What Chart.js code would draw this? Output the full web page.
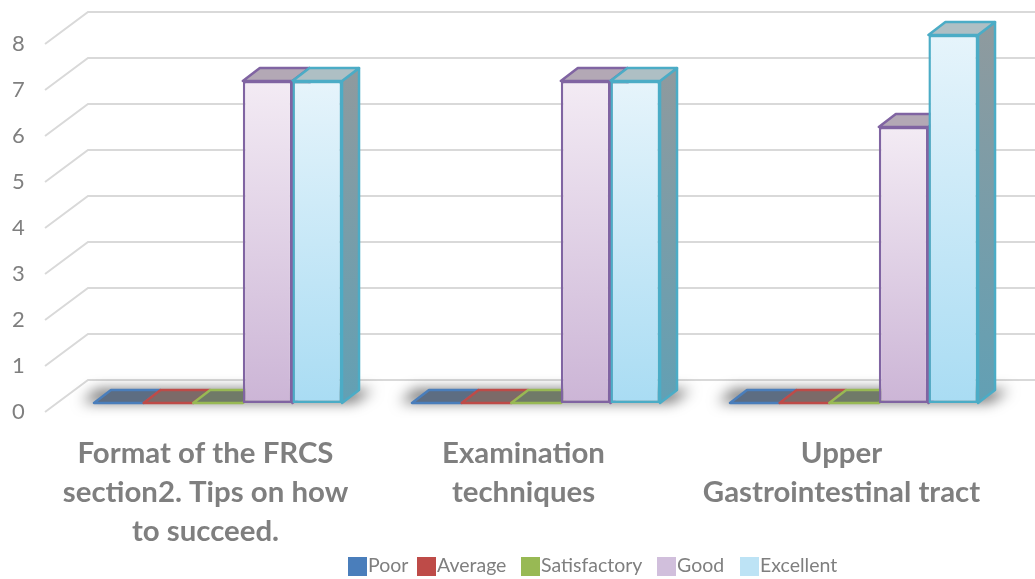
<!DOCTYPE html>
<html><head><meta charset="utf-8">
<style>html,body{margin:0;padding:0;background:#fff}canvas{display:block}</style>
<script src="https://cdn.jsdelivr.net/npm/chart.js@4"></script>
</head><body><canvas id="c" width="1035" height="579"></canvas>
<script>
const categories = [
  ["Format of the FRCS","section2. Tips on how","to succeed."],
  ["Examination","techniques"],
  ["Upper","Gastrointestinal tract"]
];
const poor = [0,0,0];
const average = [0,0,0];
const satisfactory = [0,0,0];
const good = [7,7,6];
const excellent = [7,7,8];
const tickValues = [0,1,2,3,4,5,6,7,8];

const FONT = "Lato, Carlito, sans-serif";
const GREY = "#7f7f7f";
const D = {dx:17, dy:13};
const legendLeft = [348,417,521,657,740];

function vGrad(chart, v, a, b){
  if(!chart.chartArea) return a;
  const y = chart.scales.y;
  const g = chart.ctx.createLinearGradient(0,y.getPixelForValue(v),0,y.getPixelForValue(0));
  g.addColorStop(0,a); g.addColorStop(1,b);
  return g;
}
function face(ctx){ return function(c){ return vGrad(c.chart, c.raw||0, ctx[0], ctx[1]); }; }
function poly(c, pts, fill, stroke, lw){
  c.beginPath(); pts.forEach((p,i)=> i? c.lineTo(p[0],p[1]) : c.moveTo(p[0],p[1])); c.closePath();
  if(fill){c.fillStyle=fill;c.fill();}
  if(stroke){c.strokeStyle=stroke;c.lineWidth=lw||2;c.lineJoin="round";c.stroke();}
}

const depthPlugin = {
  id:"depth",
  beforeDatasetsDraw(chart){
    const c = chart.ctx, y = chart.scales.y;
    c.save();
    tickValues.forEach(v=>{
      const py = y.getPixelForValue(v);
      c.beginPath(); c.moveTo(45,py+9); c.lineTo(88,py-23); c.lineTo(1035,py-23);
      c.strokeStyle="#d9d9d9"; c.lineWidth=2; c.stroke();
    });
    const n = chart.data.datasets.length;
    const far = 3000;
    chart.data.labels.forEach((_,i)=>{
      const a = chart.getDatasetMeta(0).data[i], b = chart.getDatasetMeta(n-1).data[i];
      const l = a.x-a.width/2, r = b.x+b.width/2, py = a.base;
      c.save();
      c.shadowColor="rgba(0,0,0,0.62)"; c.shadowBlur=14; c.shadowOffsetX=far;
      poly(c,[[l-12-far,py-1],[r+12-far,py-1],[r+D.dx+14-far,py-D.dy],[l+D.dx-14-far,py-D.dy]],"#000");
      c.restore();
    });
    chart.data.datasets.forEach((ds,k)=>{
      chart.getDatasetMeta(k).data.forEach(el=>{
        const l = el.x-el.width/2, r = el.x+el.width/2, t = el.y, b = el.base;
        const top = [[l,t],[r,t],[r+D.dx,t-D.dy],[l+D.dx,t-D.dy]];
        if(b-t>0.5){
          const g = c.createLinearGradient(0,t-D.dy,0,b);
          g.addColorStop(0,ds.sideFill[0]); g.addColorStop(1,ds.sideFill[1]);
          poly(c,[[r,t],[r+D.dx,t-D.dy],[r+D.dx,b-D.dy],[r,b]],g,ds.borderColor,2.5);
        }
        poly(c,top,ds.topFill,ds.borderColor,2.5);
      });
    });
    c.restore();
  },
  afterDraw(chart){
    const c = chart.ctx;
    c.save();
    c.font = "19.5px "+FONT;
    c.textBaseline="middle"; c.textAlign="left";
    chart.data.datasets.forEach((ds,k)=>{
      const x = legendLeft[k];
      c.fillStyle = ds.legendColor; c.fillRect(x,557,19,19);
      c.fillStyle = GREY; c.fillText(ds.label,x+20,566);
    });
    c.restore();
  }
};

function series(label,data,border,front,top,side,legend){
  return {label,data,borderColor:border,borderWidth:2.5,borderSkipped:false,
    backgroundColor:face(front),topFill:top,sideFill:side,legendColor:legend,
    barPercentage:1,categoryPercentage:0.78};
}

new Chart(document.getElementById("c"),{
  type:"bar",
  data:{labels:categories,datasets:[
    series("Poor",poor,"#4a7ebb",["#4a7ebb","#4a7ebb"],"#5d6d82",["#5d6d82","#5d6d82"],"#4a7ebb"),
    series("Average",average,"#be4b48",["#be4b48","#be4b48"],"#7c6a68",["#7c6a68","#7c6a68"],"#be4b48"),
    series("Satisfactory",satisfactory,"#98b954",["#98b954","#98b954"],"#707a68",["#707a68","#707a68"],"#98b954"),
    series("Good",good,"#8064a2",["#f3ebf4","#ccb5d6"],"#b3a8b5",["#9a8fa0","#7d7088"],"#d1bfdc"),
    series("Excellent",excellent,"#4bacc6",["#e6f4fb","#a9dcf3"],"#aebfc4",["#8f9a9e","#62a0b4"],"#bde3f5")
  ]},
  plugins:[depthPlugin],
  options:{
    responsive:false, animation:false, devicePixelRatio:1,
    layout:{padding:{top:35,right:22,bottom:0,left:12}},
    plugins:{legend:{display:false},tooltip:{enabled:false},title:{display:false}},
    scales:{
      x:{
        grid:{display:false,drawTicks:false}, border:{display:false},
        afterFit(s){s.height=176;},
        ticks:{color:GREY,padding:31,labelOffset:-12.5,maxRotation:0,minRotation:0,autoSkip:false,
          font:{family:FONT,size:29.4,weight:"bold",lineHeight:39/29.4}}
      },
      y:{
        min:0,max:8,
        grid:{display:false,drawTicks:false}, border:{display:false},
        afterFit(s){s.width=47;},
        ticks:{stepSize:1,color:GREY,padding:5,crossAlign:"far",labelOffset:9,font:{family:FONT,size:22}}
      }
    }
  }
});
</script></body></html>
